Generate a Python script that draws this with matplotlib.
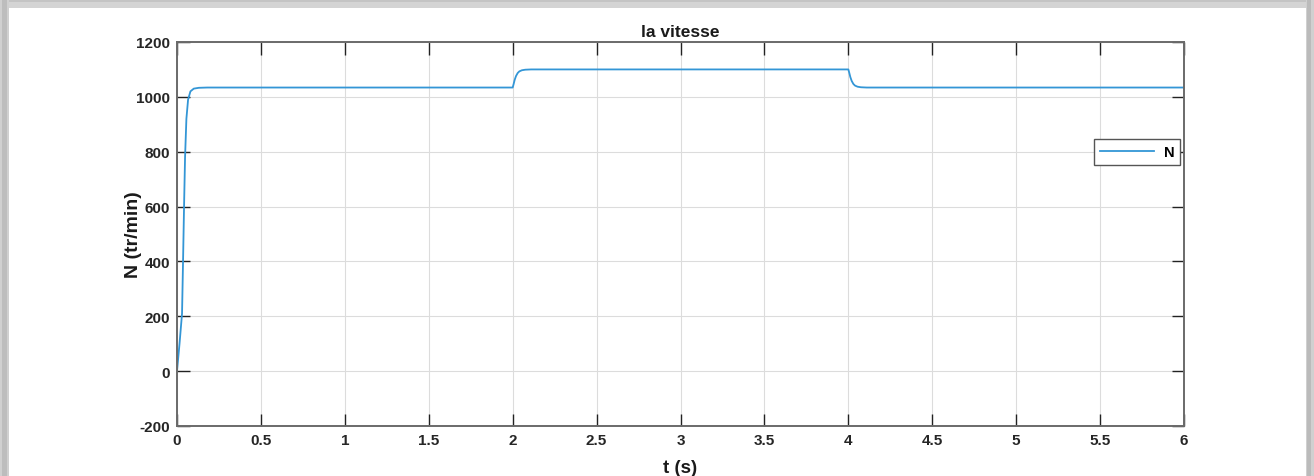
import matplotlib
matplotlib.use("Agg")
import matplotlib.pyplot as plt
from matplotlib.patches import Rectangle

# Rotor speed samples (s, tr/min)
t_start = [0.0, 0.015, 0.03, 0.036, 0.042, 0.048, 0.056, 0.066, 0.08, 0.10, 0.13, 0.18]
n_start = [0.0, 100.0, 210.0, 400.0, 600.0, 780.0, 920.0, 990.0, 1020.0, 1030.0, 1033.0, 1034.0]

t_step_up = [2.0, 2.005, 2.012, 2.02, 2.03, 2.04, 2.055, 2.075, 2.11]
n_step_up = [1034.0, 1045.0, 1062.0, 1076.0, 1087.0, 1093.0, 1097.0, 1099.0, 1100.0]

t_step_down = [4.0, 4.005, 4.012, 4.02, 4.03, 4.04, 4.055, 4.075, 4.11, 6.0]
n_step_down = [1100.0, 1089.0, 1072.0, 1058.0, 1047.0, 1041.0, 1037.0, 1035.0, 1034.0, 1034.0]

t = t_start + t_step_up + t_step_down
n = n_start + n_step_up + n_step_down

x_ticks = [0, 0.5, 1, 1.5, 2, 2.5, 3, 3.5, 4, 4.5, 5, 5.5, 6]
x_labels = ["0", "0.5", "1", "1.5", "2", "2.5", "3", "3.5", "4", "4.5", "5", "5.5", "6"]
y_ticks = [-200, 0, 200, 400, 600, 800, 1000, 1200]

plt.rcParams["font.family"] = ["Liberation Sans", "DejaVu Sans"]
plt.rcParams["font.weight"] = "bold"
plt.rcParams["axes.unicode_minus"] = False

W, H = 1314, 477
fig = plt.figure(figsize=(W / 100, H / 100), dpi=100, facecolor="white")

# window frame around the plot
def band(x0, y0, w, h, color):
    fig.patches.append(Rectangle((x0 / W, 1 - (y0 + h) / H), w / W, h / H,
                                 transform=fig.transFigure, facecolor=color,
                                 edgecolor="none", zorder=-5))

band(0, 0, W, 9, "#d4d4d4")
band(0, 0, W, 3, "#c4c4c4")
band(0, 0, 9, H, "#d0d0d0")
band(2, 0, 5, H, "#bdbdbd")
band(1306, 0, 8, H, "#d0d0d0")
band(1307, 0, 4, H, "#bbbbbb")

ax = fig.add_axes([177 / W, 1 - 427 / H, (1184 - 177) / W, (427 - 43) / H])
ax.plot(t, n, color="#3396d6", linewidth=1.3, label="N")

ax.set_xlim(0, 6)
ax.set_ylim(-200, 1200)
ax.set_xticks(x_ticks)
ax.set_xticklabels(x_labels)
ax.set_yticks(y_ticks)
ax.grid(True, color="#dcdcdc", linewidth=0.8)
ax.set_axisbelow(True)

ax.tick_params(direction="in", length=9, width=1.0, color="#222222",
               top=True, right=True, labelsize=11, pad=5)
for lab in ax.get_xticklabels() + ax.get_yticklabels():
    lab.set_fontweight("bold")
    lab.set_color("#262626")
for sp in ax.spines.values():
    sp.set_color("#6a6a6a")
    sp.set_linewidth(1.4)

ax.set_title("la vitesse", fontsize=12.5, fontweight="bold", pad=4, color="#1a1a1a")
ax.set_xlabel("t (s)", fontsize=13.5, fontweight="bold", labelpad=9, color="#1a1a1a")
ax.set_ylabel("N (tr/min)", fontsize=14, fontweight="bold", labelpad=-4, color="#1a1a1a")

leg = ax.legend(loc="center right", bbox_to_anchor=(1.0, 0.714), fancybox=False,
                framealpha=1, edgecolor="#555555", fontsize=10.5, handlelength=3.7,
                borderpad=0.4, handletextpad=0.7, borderaxespad=0.25)
leg.get_frame().set_linewidth(1.0)
for txt in leg.get_texts():
    txt.set_fontweight("bold")

fig.savefig("out.png", dpi=100, facecolor="white")
